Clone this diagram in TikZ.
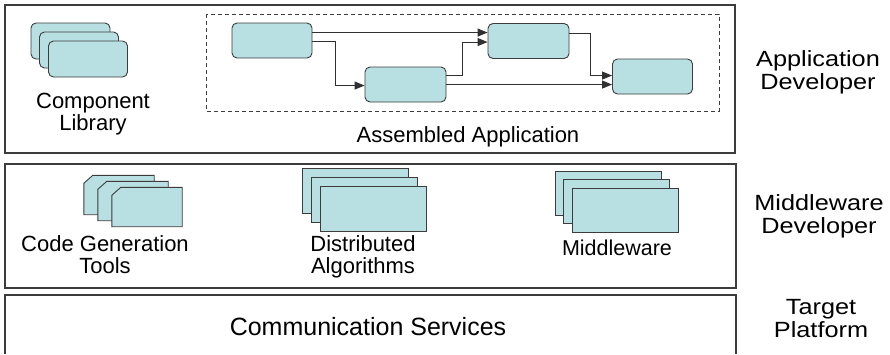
\documentclass[tikz,border=0pt]{standalone}
\usepackage{fontspec}
\setmainfont{Liberation Sans}
\usetikzlibrary{arrows.meta,calc}
\definecolor{cardfill}{HTML}{B8DFE2}
\definecolor{edge}{HTML}{3C3C3C}
\begin{document}
\begin{tikzpicture}[x=1pt,y=-1pt,
  layer/.style={draw=edge, line width=1.3pt},
  comp/.style={draw=edge, fill=cardfill, line width=0.9pt, rounded corners=5pt, minimum width=80pt, minimum height=35pt, inner sep=0pt},
  libcard/.style={comp, minimum width=79pt, minimum height=36pt},
  card/.style={draw=edge, fill=cardfill, line width=0.9pt, minimum width=106pt, minimum height=44pt, inner sep=0pt},
  cgbox/.style={minimum width=70pt, minimum height=39pt, inner sep=0pt},
  cgline/.style={draw=edge, fill=cardfill, line width=0.9pt},
  conn/.style={draw=edge!80!black, line width=1pt, -{Triangle[length=10pt,width=8pt]}},
  lbl/.style={font=\fontsize{22}{21.5}\selectfont, align=center, inner sep=0pt, text=black, anchor=base},
  role/.style={font=\fontsize{22}{23}\selectfont, align=center, inner sep=0pt, text=black, anchor=base, xscale=1.15}]
\useasboundingbox (0,0) rectangle (890,354);
% layers
\draw[layer] (5,5) rectangle (735,153);
\draw[layer] (5,164) rectangle (736,288);
\draw[layer] (5,354) -- (5,295) -- (736,295) -- (736,354);
\draw[draw=edge, line width=0.9pt, dash pattern=on 4pt off 3pt] (206,14) rectangle (719,111);
% component library
\node[libcard] (lib1) at (70.5,41) {};
\node[libcard] (lib2) at (79,50) {};
\node[libcard] (lib3) at (88,59) {};
\node[lbl] (libl) at (93,130) {Component\\Library};
% assembled application
\node[comp] (A1) at (272,40.5) {};
\node[comp, minimum width=81pt] (A2) at (405.5,84.5) {};
\node[comp, minimum width=81pt] (A3) at (528.5,41) {};
\node[comp] (A4) at (652.5,76.5) {};
\coordinate (a1o1) at ($(A1.north east)+(0,10)$);
\coordinate (a1o2) at ($(A1.north east)+(0,19)$);
\coordinate (a2o1) at ($(A2.north east)+(0,9)$);
\coordinate (a2o2) at ($(A2.north east)+(0,18)$);
\coordinate (a3o1) at ($(A3.north east)+(0,10)$);
\draw[conn] (a1o1) -- (a1o1 -| A3.west);
\draw[conn] (a1o2) -- ++(23,0) |- ($(A2.north west)+(0,19)$);
\draw[conn] (a2o1) -- ++(16,0) |- ($(A3.north west)+(0,19)$);
\draw[conn] (a2o2) -- (a2o2 -| A4.west);
\draw[conn] (a3o1) -- ++(21,0) |- ($(A4.north west)+(0,17)$);
\node[lbl] (asml) at (468,142) {Assembled Application};
% middleware layer: code generation tools (chamfered cards)
\node[cgbox] (cg1) at (119,195) {};
\draw[cgline] (cg1.south west) -- (cg1.south east) -- (cg1.north east) -- ($(cg1.north west)+(9,0)$) -- ($(cg1.north west)+(0,8)$) -- cycle;
\node[cgbox] (cg2) at (133,201) {};
\draw[cgline] (cg2.south west) -- (cg2.south east) -- (cg2.north east) -- ($(cg2.north west)+(9,0)$) -- ($(cg2.north west)+(0,8)$) -- cycle;
\node[cgbox] (cg3) at (147,207) {};
\draw[cgline] (cg3.south west) -- (cg3.south east) -- (cg3.north east) -- ($(cg3.north west)+(9,0)$) -- ($(cg3.north west)+(0,8)$) -- cycle;
\node[lbl] (cgl) at (105,273) {Code Generation\\Tools};
\node[card, minimum height=45pt] (da1) at (355,190.5) {};
\node[card, minimum height=45pt] (da2) at (364,199.5) {};
\node[card, minimum height=45pt] (da3) at (373,208.5) {};
\node[lbl] (dal) at (363,273) {Distributed\\Algorithms};
\node[card] (mw1) at (608,193) {};
\node[card] (mw2) at (616.5,201.5) {};
\node[card] (mw3) at (625,210) {};
\node[lbl, font=\fontsize{21.5}{21.5}\selectfont] (mwl) at (617,255) {Middleware};
% platform
\node[lbl, font=\fontsize{25}{25}\selectfont] (cs) at (368,335) {Communication Services};
% roles
\node[role] (r1) at (818,89) {Application\\Developer};
\node[role] (r2) at (819,233) {Middleware\\Developer};
\node[role] (r3) at (821,337) {Target\\Platform};
\end{tikzpicture}
\end{document}
